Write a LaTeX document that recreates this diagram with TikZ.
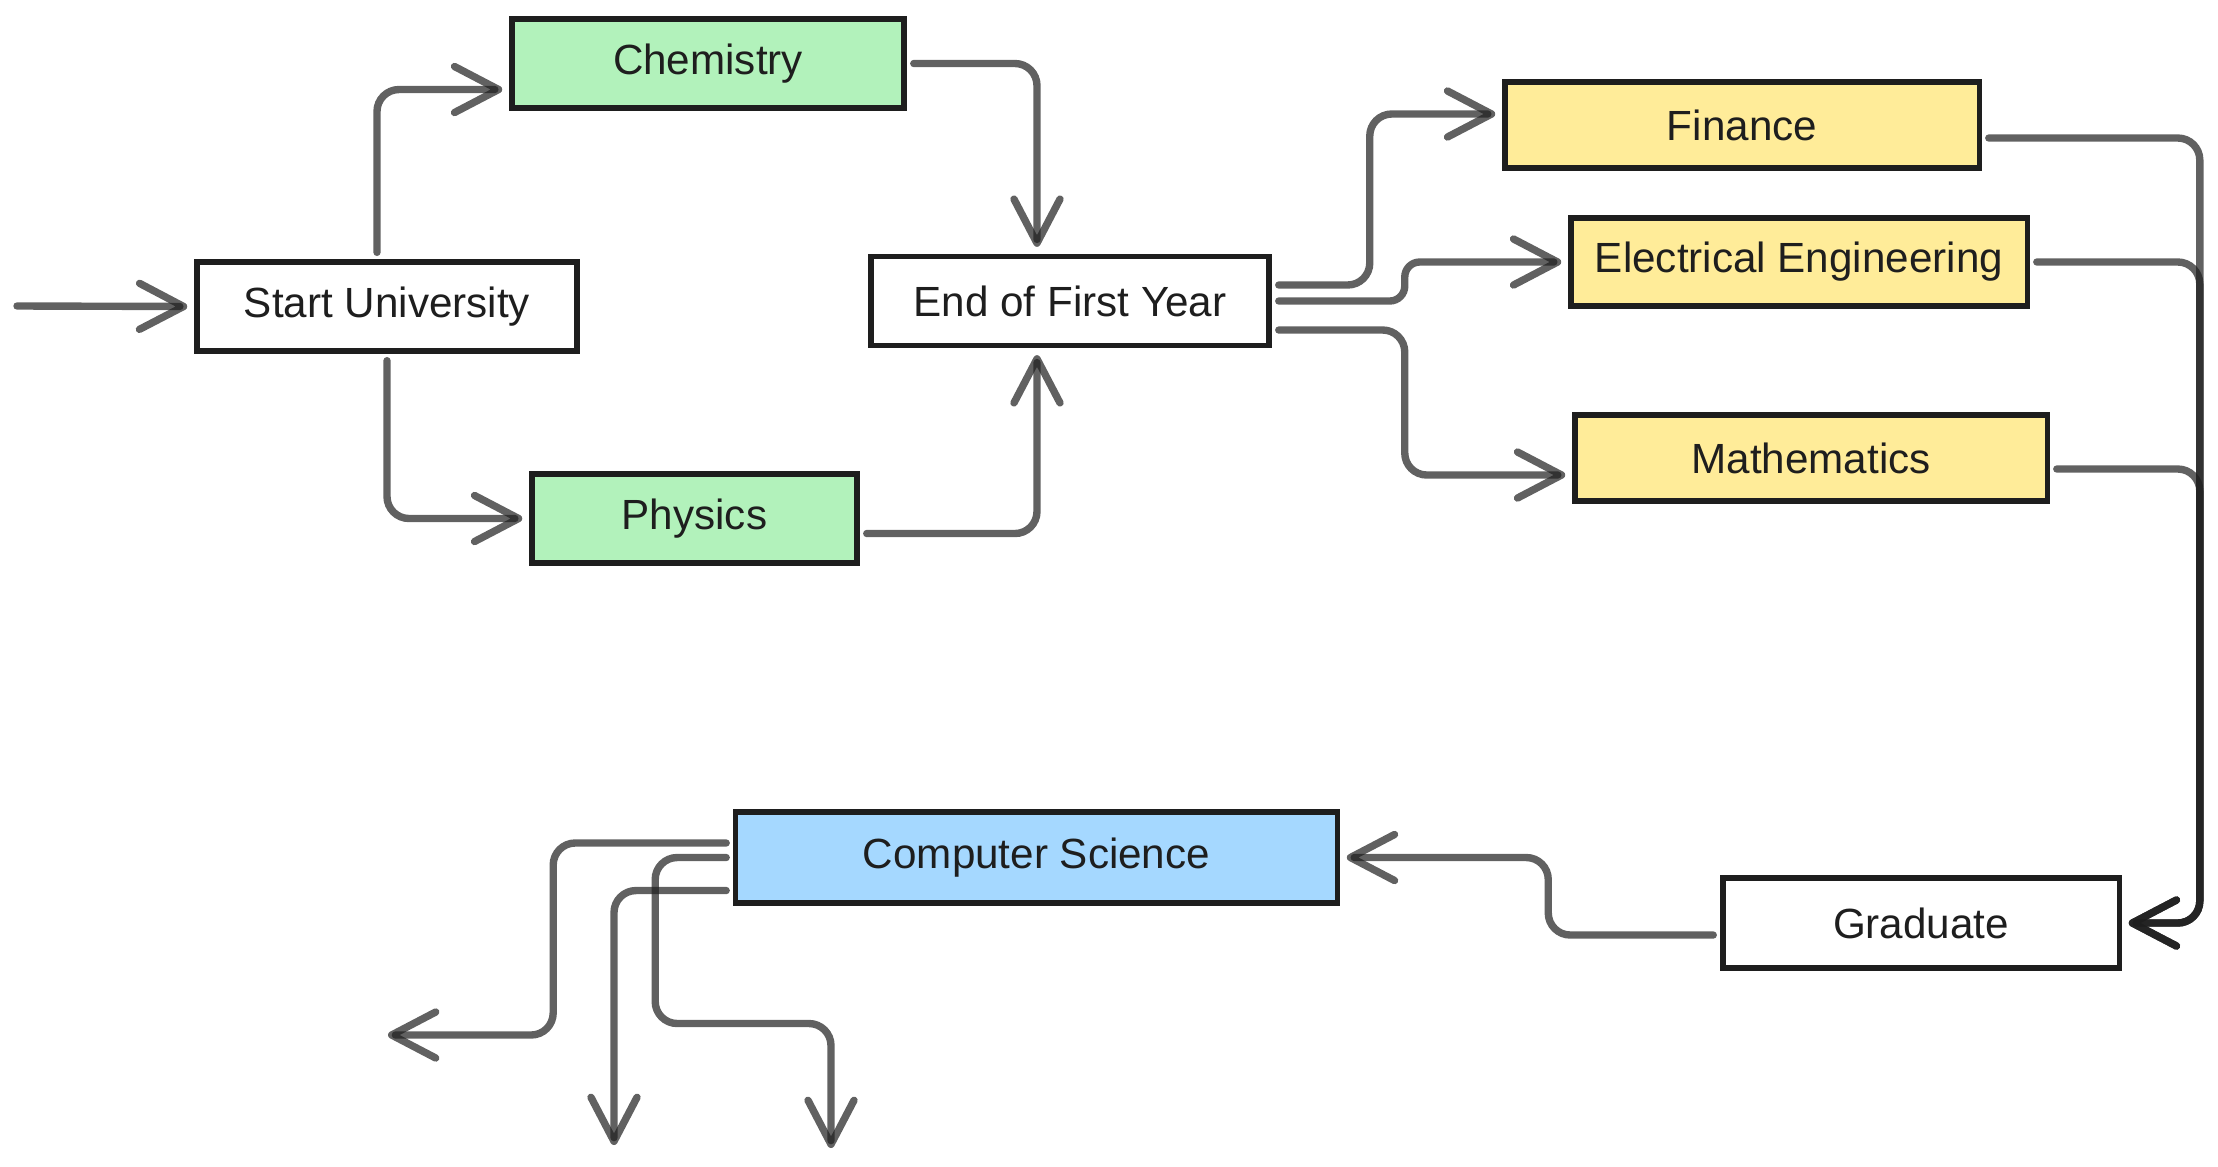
\documentclass[tikz,border=0pt]{standalone}
\usepackage{fontspec}
\setmainfont{Liberation Sans}
\usepackage{tikz}
\usetikzlibrary{arrows.meta,positioning,calc}
\definecolor{ink}{HTML}{1E1E1E}
\definecolor{mint}{HTML}{B2F2BB}
\definecolor{butter}{HTML}{FFEC99}
\definecolor{sky}{HTML}{A5D8FF}

\begin{document}
\begin{tikzpicture}[x=0.01cm, y=-0.01cm,
  >={Straight Barb[length=0.44cm, width=0.46cm, line cap=round, line join=round]},
  box/.style={draw=ink, line width=1.5pt, minimum height=0.89cm, text=ink, font=\fontsize{12}{14}\selectfont},
  link/.style={->, draw=ink, draw opacity=0.7, line width=2.1pt, line cap=round, rounded corners=0.22cm, shorten <=0.07cm, shorten >=0.07cm}]
\useasboundingbox (0,0) rectangle (2218,1166);
\node[box, fill=white, minimum width=3.8cm] (start) at (387,306.5) {Start University};
\node[box, fill=mint, minimum width=3.92cm] (chem) at (708,63.5) {Chemistry};
\node[box, fill=mint, minimum width=3.25cm] (phys) at (694.5,518.5) {Physics};
\node[box, fill=white, minimum width=3.98cm] (end1) at (1070,301) {End of First Year};
\node[box, fill=butter, minimum width=4.74cm, minimum height=0.86cm] (fin) at (1742,125) {Finance};
\node[box, fill=butter, minimum width=4.56cm, minimum height=0.88cm] (ee) at (1799,262) {Electrical Engineering};
\node[box, fill=butter, minimum width=4.72cm, minimum height=0.86cm] (math) at (1811,458) {Mathematics};
\node[box, fill=sky, minimum width=6.01cm, minimum height=0.91cm] (cs) at (1036.5,857.5) {Computer Science};
\node[box, fill=white, minimum width=3.96cm, minimum height=0.9cm] (grad) at (1921,923) {Graduate};
\coordinate (entry) at (17,306);
\coordinate (outW) at (388,1035);
\coordinate (outS1) at (614,1145);
\coordinate (outS2) at (831,1148);
\draw[link, shorten <=0pt] (entry) -- (start.west);
\draw[link] ([xshift=-0.1cm]start.north) |- ([yshift=-0.26cm]chem.west);
\draw[link] (start.south) |- (phys.west);
\draw[link] (chem.east) -| ([xshift=-0.33cm]end1.north);
\draw[link] ([yshift=-0.15cm]phys.east) -| ([xshift=-0.33cm]end1.south);
\draw[link] ([yshift=0.16cm]end1.east) -- ++(98,0) |- ([yshift=0.11cm]fin.west);
\draw[link, rounded corners=0.15cm] (end1.east) -- ++(133,0) |- (ee.west);
\draw[link] ([yshift=-0.29cm]end1.east) -- ++(133,0) |- ([yshift=-0.17cm]math.west);
\draw[link] ([yshift=-0.13cm]fin.east) -| ([xshift=0.78cm]grad.east) -- (grad.east);
\draw[link] (ee.east) -| ([xshift=0.78cm]grad.east) -- (grad.east);
\draw[link] ([yshift=-0.11cm]math.east) -| ([xshift=0.78cm]grad.east) -- (grad.east);
\draw[link] ([yshift=-0.12cm]grad.west) -- ++(-172,0) |- (cs.east);
\draw[link, shorten >=0pt] ([yshift=0.145cm]cs.west) -- ++(-180,0) |- (outW);
\draw[link, shorten >=0pt] (cs.west) -- ++(-78,0) -- ++(0,166) -| (outS2);
\draw[link, shorten >=0pt] ([yshift=-0.33cm]cs.west) -| (outS1);
\end{tikzpicture}
\end{document}
